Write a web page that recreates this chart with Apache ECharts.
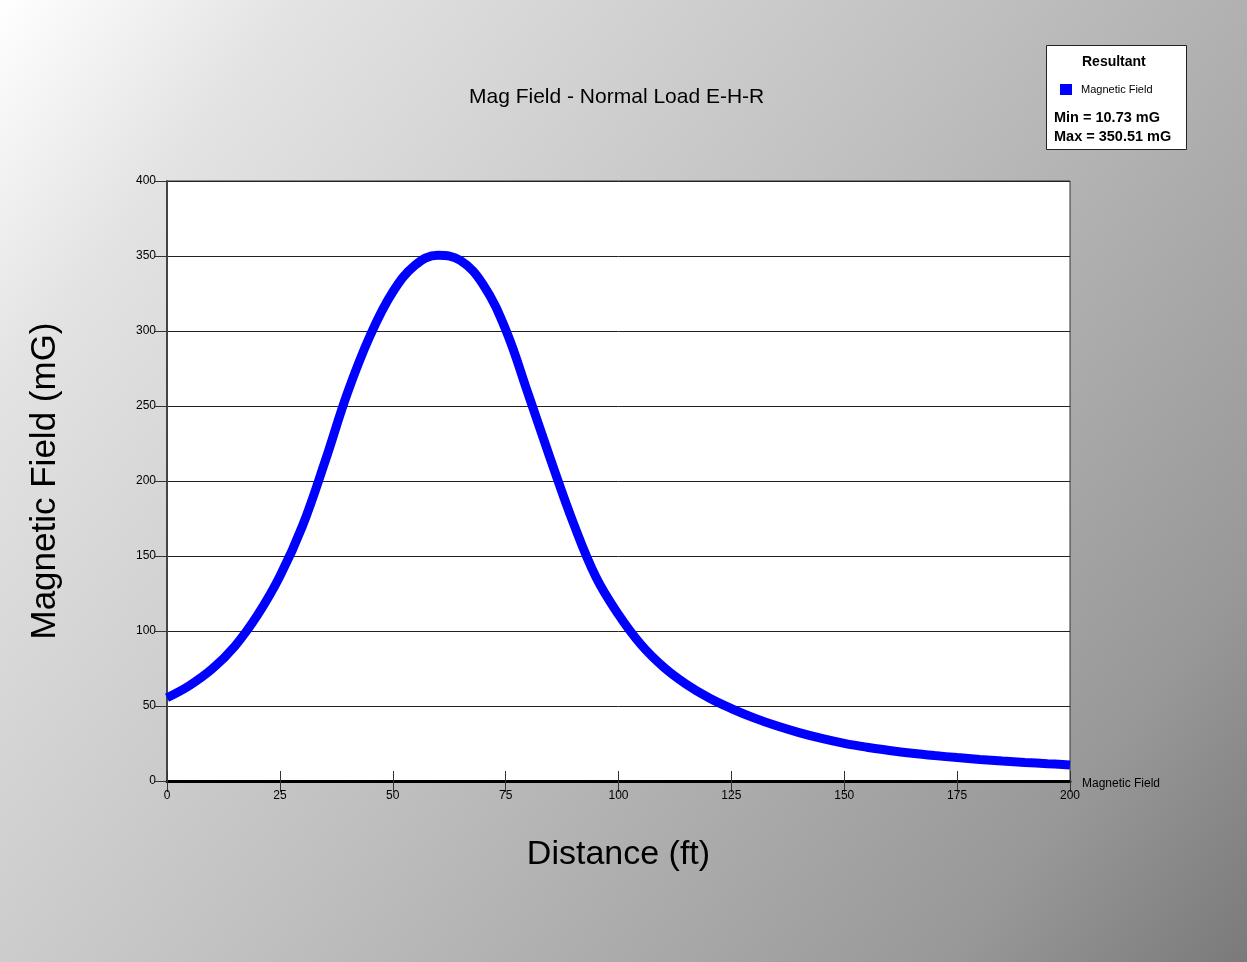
<!DOCTYPE html>
<html>
<head>
<meta charset="utf-8">
<script src="https://cdn.jsdelivr.net/npm/echarts@6/dist/echarts.min.js"></script>
<style>
  html, body { margin: 0; padding: 0; }
  #chart { width: 1247px; height: 962px; }
</style>
</head>
<body>
<div id="chart"></div>
<script>
// Lateral profile of the resultant magnetic field, every 5 ft
const distanceFt = [0, 5, 10, 15, 20, 25, 30, 35, 40, 45, 50, 55, 60, 65, 70, 75, 80, 85, 90, 95, 100,
  105, 110, 115, 120, 125, 130, 135, 140, 145, 150, 155, 160, 165, 170, 175, 180, 185, 190, 195, 200];
const fieldMG = [55.5, 63.7, 74.7, 89.8, 110.4, 136.5, 170, 213, 259, 297, 326, 344, 350.51, 347, 331, 301, 258, 214, 172, 136, 111,
  90.9, 75.9, 64.5, 55.5, 48.3, 42.1, 36.8, 32.3, 28.4, 25.1, 22.5, 20.35, 18.5, 16.95, 15.6, 14.4, 13.33, 12.38, 11.52, 10.73];
const xTicks = { min: 0, max: 200, step: 25 };
const yTicks = { min: 0, max: 400, step: 50 };
const seriesName = 'Magnetic Field';

const points = distanceFt.map((d, i) => [d, fieldMG[i]]);
const minVal = Math.min(...fieldMG);
const maxVal = Math.max(...fieldMG);

const chart = echarts.init(document.getElementById('chart'));
const font = 'Liberation Sans, Arial, sans-serif';

chart.setOption({
  backgroundColor: {
    type: 'linear', x: 0, y: 0, x2: 1, y2: 1,
    colorStops: [
      { offset: 0, color: '#ffffff' },
      { offset: 0.15, color: '#e3e3e3' },
      { offset: 0.5, color: '#bfbfbf' },
      { offset: 0.85, color: '#989898' },
      { offset: 1, color: '#7a7a7a' }
    ]
  },
  animation: false,
  title: {
    text: 'Mag Field - Normal Load E-H-R',
    left: 464, top: 82,
    textStyle: { fontFamily: font, fontSize: 21, fontWeight: 'normal', color: '#000' }
  },
  legend: {
    data: [{ name: seriesName, icon: 'rect' }],
    left: 1060, top: 84, padding: 0,
    itemWidth: 12, itemHeight: 11,
    textStyle: { fontFamily: font, fontSize: 11, color: '#000', padding: [0, 0, 0, 4] }
  },
  grid: {
    left: 167, right: 177, top: 181, bottom: 181,
    show: true, backgroundColor: '#ffffff', borderColor: '#333', borderWidth: 1
  },
  xAxis: [{
    type: 'value', min: xTicks.min, max: xTicks.max, interval: xTicks.step,
    name: 'Distance (ft)', nameLocation: 'middle', nameGap: 57,
    nameTextStyle: { fontFamily: font, fontSize: 34, color: '#000' },
    axisLine: { show: true, lineStyle: { color: '#000', width: 3 } },
    axisTick: { show: true, inside: true, length: 10, lineStyle: { color: '#333', width: 1 } },
    axisLabel: { fontFamily: font, fontSize: 12, color: '#000', margin: 9 },
    splitLine: { show: false }
  }, {
    type: 'value', min: xTicks.min, max: xTicks.max, interval: xTicks.step, position: 'bottom',
    axisLine: { show: false },
    axisTick: { show: true, inside: false, length: 11, lineStyle: { color: '#333', width: 1 } },
    axisLabel: { show: false },
    splitLine: { show: false }
  }],
  yAxis: {
    type: 'value', min: yTicks.min, max: yTicks.max, interval: yTicks.step,
    name: 'Magnetic Field (mG)', nameLocation: 'middle', nameGap: 104,
    nameTextStyle: { fontFamily: font, fontSize: 35, color: '#000' },
    axisLine: { show: true, lineStyle: { color: '#444', width: 2 } },
    axisTick: { show: true, length: 12, lineStyle: { color: '#333', width: 1 } },
    axisLabel: { fontFamily: font, fontSize: 12, color: '#000', margin: 11 },
    splitLine: { show: true, lineStyle: { color: '#222', width: 1 } }
  },
  series: [{
    name: seriesName,
    type: 'line',
    data: points,
    smooth: 0.4,
    showSymbol: false,
    color: '#0000ff',
    lineStyle: { color: '#0000ff', width: 9 },
    z: 5
  }],
  graphic: [
    {
      type: 'rect', left: 1046, top: 45, z: -1,
      shape: { width: 140, height: 104 },
      style: { fill: '#ffffff', stroke: '#222', lineWidth: 1 }
    },
    {
      type: 'text', left: 1082, top: 55,
      style: { text: 'Resultant', font: 'bold 14px ' + font, fill: '#000' }
    },
    {
      type: 'text', left: 1054, top: 110,
      style: { text: 'Min = ' + minVal.toFixed(2) + ' mG', font: 'bold 14.5px ' + font, fill: '#000' }
    },
    {
      type: 'text', left: 1054, top: 129,
      style: { text: 'Max = ' + maxVal.toFixed(2) + ' mG', font: 'bold 14.5px ' + font, fill: '#000' }
    },
    {
      type: 'text', left: 1082, top: 778,
      style: { text: seriesName, font: '12px ' + font, fill: '#000' }
    }
  ]
});
</script>
</body>
</html>
